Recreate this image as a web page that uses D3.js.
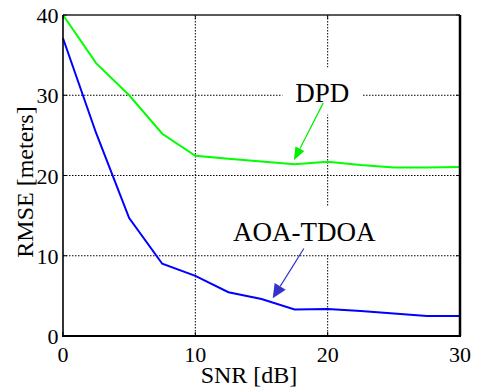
<!DOCTYPE html>
<html>
<head>
<meta charset="utf-8">
<script src="https://cdn.jsdelivr.net/npm/d3@7"></script>
</head>
<body style="margin:0">
<div id="chart"></div>
<script>
const width = 477;
const height = 392;

// data
const snr = [0, 2.5, 5, 7.5, 10, 12.5, 15, 17.5, 20, 22.5, 25, 27.5, 30];
const dpd = [40, 34, 30, 25.2, 22.45, 22.1, 21.75, 21.4, 21.7, 21.3, 21.0, 21.0, 21.05];
const aoaTdoa = [37.1, 25.3, 14.7, 9.0, 7.5, 5.45, 4.6, 3.3, 3.35, 3.1, 2.8, 2.5, 2.5];

const xTicks = [0, 10, 20, 30];
const yTicks = [0, 10, 20, 30, 40];

// annotation: label position and arrow (from -> to) in data units
const labels = [
    { text: "DPD", x: 19.6, y: 29.2, from: [19.67, 29.05], to: [17.45, 21.9], color: "#00ee00", head: [13, 10] },
    { text: "AOA-TDOA", x: 18.23, y: 11.87, from: [18.2, 10.9], to: [15.85, 4.7], color: "#3333cc", head: [14, 13] }
];

const fontName = '"Liberation Serif"';

const margin = { top: 15, right: 17, bottom: 56, left: 63 };
const innerW = width - margin.left - margin.right;
const innerH = height - margin.top - margin.bottom;

const svg = d3.select("#chart").append("svg")
    .attr("width", width)
    .attr("height", height);

const g = svg.append("g")
    .attr("transform", `translate(${margin.left},${margin.top})`);

const x = d3.scaleLinear().domain([0, 30]).range([0, innerW]);
const y = d3.scaleLinear().domain([0, 40]).range([innerH, 0]);

// dotted grid
g.append("g").selectAll("line")
    .data(xTicks.filter(d => d > 0 && d < 30))
    .join("line")
    .attr("x1", d => x(d)).attr("x2", d => x(d))
    .attr("y1", 0).attr("y2", innerH)
    .attr("stroke", "#000").attr("stroke-width", 1)
    .attr("stroke-dasharray", "1.5,1.5");

g.append("g").selectAll("line")
    .data(yTicks.filter(d => d > 0 && d < 40))
    .join("line")
    .attr("x1", 0).attr("x2", innerW)
    .attr("y1", d => y(d)).attr("y2", d => y(d))
    .attr("stroke", "#000").attr("stroke-width", 1)
    .attr("stroke-dasharray", "1.5,1.5");

// lines
const line = d3.line()
    .x((d, i) => x(snr[i]))
    .y(d => y(d));

g.append("path")
    .datum(dpd)
    .attr("d", line)
    .attr("fill", "none")
    .attr("stroke", "#00ff00")
    .attr("stroke-width", 2);

g.append("path")
    .datum(aoaTdoa)
    .attr("d", line)
    .attr("fill", "none")
    .attr("stroke", "#0000ff")
    .attr("stroke-width", 2);

// annotations with white boxes
labels.forEach(l => {
    const t = g.append("text")
        .attr("x", x(l.x))
        .attr("y", y(l.y))
        .attr("text-anchor", "middle")
        .attr("font-size", 27)
        .style("font-family", fontName)
        .text(l.text);
    const bb = t.node().getBBox();
    g.insert("rect", () => t.node())
        .attr("x", bb.x - 13)
        .attr("y", bb.y - 10)
        .attr("width", bb.width + 26)
        .attr("height", bb.height + 17)
        .attr("fill", "#fff");

    const x1 = x(l.from[0]), y1 = y(l.from[1]);
    const x2 = x(l.to[0]), y2 = y(l.to[1]);
    const ang = Math.atan2(y2 - y1, x2 - x1);
    const len = l.head[0], hw = l.head[1] / 2;
    const bx = x2 - len * Math.cos(ang), by = y2 - len * Math.sin(ang);
    g.append("line")
        .attr("x1", x1).attr("y1", y1)
        .attr("x2", bx).attr("y2", by)
        .attr("stroke", l.color).attr("stroke-width", 1.2);
    g.append("path")
        .attr("d", `M${x2},${y2}L${bx - hw * Math.sin(ang)},${by + hw * Math.cos(ang)}L${bx + hw * Math.sin(ang)},${by - hw * Math.cos(ang)}Z`)
        .attr("fill", l.color);
});

// inward ticks
const tickLen = 4;
g.append("g").selectAll("line")
    .data(xTicks)
    .join("line")
    .attr("x1", d => x(d)).attr("x2", d => x(d))
    .attr("y1", innerH).attr("y2", innerH - tickLen)
    .attr("stroke", "#000");
g.append("g").selectAll("line")
    .data(xTicks)
    .join("line")
    .attr("x1", d => x(d)).attr("x2", d => x(d))
    .attr("y1", 0).attr("y2", tickLen)
    .attr("stroke", "#000");
g.append("g").selectAll("line")
    .data(yTicks)
    .join("line")
    .attr("x1", 0).attr("x2", tickLen)
    .attr("y1", d => y(d)).attr("y2", d => y(d))
    .attr("stroke", "#000");
g.append("g").selectAll("line")
    .data(yTicks)
    .join("line")
    .attr("x1", innerW).attr("x2", innerW - tickLen)
    .attr("y1", d => y(d)).attr("y2", d => y(d))
    .attr("stroke", "#000");

// frame
g.append("line").attr("x1", 0).attr("x2", innerW).attr("y1", 0).attr("y2", 0)
    .attr("stroke", "#222").attr("stroke-width", 1.5);
g.append("line").attr("x1", 0).attr("x2", 0).attr("y1", 0).attr("y2", innerH)
    .attr("stroke", "#000").attr("stroke-width", 1.6);
g.append("line").attr("x1", innerW).attr("x2", innerW).attr("y1", 0).attr("y2", innerH)
    .attr("stroke", "#000").attr("stroke-width", 2.5);
g.append("line").attr("x1", -1).attr("x2", innerW + 1).attr("y1", innerH).attr("y2", innerH)
    .attr("stroke", "#000").attr("stroke-width", 2);

// tick labels
g.append("g").selectAll("text")
    .data(xTicks)
    .join("text")
    .attr("x", d => x(d))
    .attr("y", innerH + 26)
    .attr("text-anchor", "middle")
    .attr("font-size", 22)
    .style("font-family", fontName)
    .text(d => d);

g.append("g").selectAll("text")
    .data(yTicks)
    .join("text")
    .attr("x", -4.5)
    .attr("y", d => y(d) + 8)
    .attr("text-anchor", "end")
    .attr("font-size", 22)
    .style("font-family", fontName)
    .text(d => d);

// axis titles
svg.append("text")
    .attr("x", 249)
    .attr("y", 383)
    .attr("text-anchor", "middle")
    .attr("font-size", 24)
    .style("font-family", fontName)
    .text("SNR [dB]");

svg.append("text")
    .attr("transform", "translate(33,182) rotate(-90)")
    .attr("text-anchor", "middle")
    .attr("font-size", 24)
    .style("font-family", fontName)
    .text("RMSE [meters]");
</script>
</body>
</html>
